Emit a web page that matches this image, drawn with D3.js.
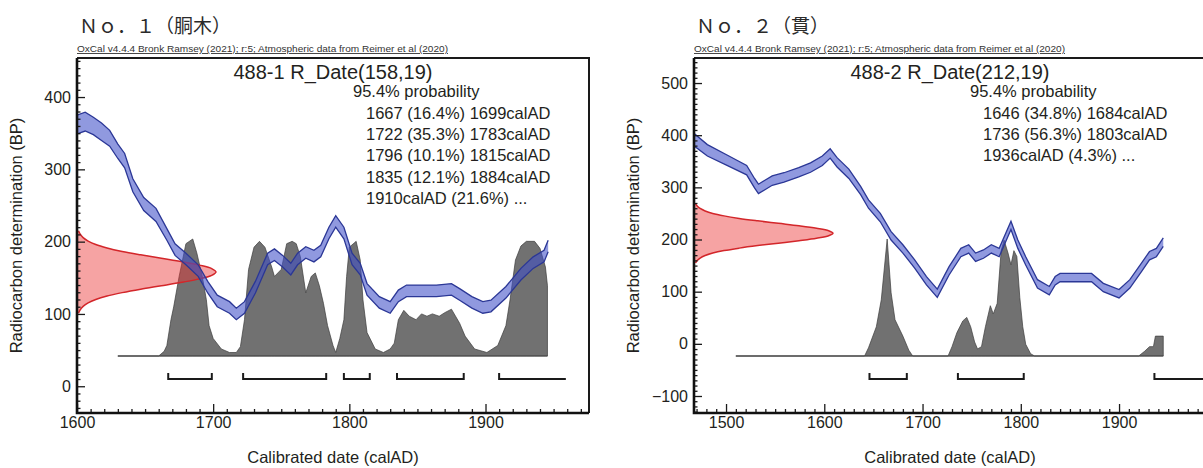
<!DOCTYPE html>
<html><head><meta charset="utf-8">
<script src="https://cdn.jsdelivr.net/npm/d3@7"></script>
<style>
body{margin:0;background:#fff;}
svg text{font-family:"Liberation Sans",Arial,Helvetica,sans-serif;fill:#231f20;}
</style></head><body>
<svg id="c" width="1203" height="468"></svg>
<script>
// ---------------- DATA ----------------
const panelTitles = ["Ｎｏ．１（胴木）", "Ｎｏ．２（貫）"];
const oxcalNote = "OxCal v4.4.4 Bronk Ramsey (2021); r:5; Atmospheric data from Reimer et al (2020)";
const sampleNames = ["488-1 R_Date(158,19)", "488-2 R_Date(212,19)"];
const probHeader = "95.4% probability";
const probLines1 = ["1667 (16.4%) 1699calAD", "1722 (35.3%) 1783calAD", "1796 (10.1%) 1815calAD", "1835 (12.1%) 1884calAD", "1910calAD (21.6%) ..."];
const probLines2 = ["1646 (34.8%) 1684calAD", "1736 (56.3%) 1803calAD", "1936calAD (4.3%) ..."];
const yAxisTitle = "Radiocarbon determination (BP)";
const xAxisTitle = "Calibrated date (calAD)";

const xDomain1 = [1600, 1976], yDomain1 = [-37, 454];
const xDomain2 = [1467.4, 1988.5], yDomain2 = [-132.6, 548];
const xTicks1 = [1600, 1700, 1800, 1900], yTicks1 = [0, 100, 200, 300, 400];
const xTicks2 = [1500, 1600, 1700, 1800, 1900], yTicks2 = [-100, 0, 100, 200, 300, 400, 500];

// calibration curve (centre, 1 sigma)
const curveYear1 = [1600,1606,1612,1618,1624,1630,1635,1641,1649,1658,1666,1672,1680,1689,1696,1703,1712,1717,1723,1731,1740,1745,1751,1757,1762,1768,1774,1779,1785,1790,1796,1802,1808,1813,1822,1830,1836,1842,1853,1864,1875,1881,1890,1898,1904,1915,1926,1935,1943,1946];
const curveBP1   = [362,366,360,352,343,325,312,278,252,237,210,189,176,160,137,118,109,100,109,137,176,182,173,162,176,185,180,187,212,228,212,176,162,134,116,109,125,132,132,132,134,127,116,109,111,130,155,171,180,194];
const curveErr1  = [13,13,12,12,11,10,10,9,9,9,8,8,8,8,8,8,8,8,8,8,8,8,8,8,8,8,8,8,8,8,8,8,8,8,8,8,8,8,8,8,8,8,8,8,8,8,8,8,8,8];
const curveYear2 = [1467,1481,1501,1521,1529,1533,1540,1547,1559,1574,1586,1598,1606,1613,1625,1637,1645,1657,1668,1680,1692,1704,1715,1727,1739,1747,1754,1762,1770,1778,1790,1797,1805,1817,1829,1835,1840,1856,1872,1884,1900,1911,1923,1931,1938,1945];
const curveBP2   = [392,371,352,333,308,297,305,313,319,329,338,351,365,348,326,294,268,242,207,182,153,121,97,140,175,182,166,172,182,175,227,191,159,115,102,121,127,127,127,108,96,115,147,169,175,195];
const curveErr2  = [12,11,10,9,9,9,9,9,9,9,9,9,9,9,9,8,8,8,8,8,8,8,8,8,8,8,8,8,8,8,8,8,8,8,8,8,8,8,8,8,8,8,8,8,8,8];

// calibrated probability (relative)
const densYear1 = [1630,1660,1664,1666,1669,1671,1675,1680,1685,1688,1692,1695,1697,1700,1706,1712,1717,1720,1723,1726,1730,1734,1738,1743,1745,1750,1754,1758,1761,1764,1768,1772,1775,1778,1781,1784,1788,1790,1793,1796,1798,1800,1805,1808,1810,1813,1819,1825,1830,1833,1836,1840,1844,1849,1853,1857,1861,1866,1870,1875,1881,1885,1892,1901,1909,1915,1918,1922,1926,1930,1936,1940,1944,1945.5,1945.5];
const densRel1  = [0,0,0.04,0.09,0.31,0.42,0.68,0.96,1.0,0.88,0.68,0.48,0.26,0.15,0.06,0.03,0.03,0.08,0.31,0.74,0.93,0.98,0.93,0.76,0.68,0.74,0.96,0.98,0.96,0.85,0.54,0.68,0.71,0.6,0.45,0.26,0.09,0.03,0.15,0.31,0.68,0.93,0.98,0.82,0.48,0.2,0.06,0.03,0.06,0.11,0.31,0.39,0.34,0.31,0.36,0.34,0.36,0.34,0.37,0.4,0.28,0.17,0.06,0.03,0.09,0.26,0.48,0.82,0.94,0.98,0.98,0.92,0.76,0.6,0];
const densYear2 = [1510,1641,1645,1653,1658,1664,1668,1672,1680,1686,1690,1726,1730,1735,1741,1745,1749,1753,1756,1760,1764,1769,1772,1776,1780,1783,1787,1790,1793,1796,1799,1802,1805,1810,1814,1920,1926,1931,1935,1937,1945,1945];
const densRel2  = [0,0,0.07,0.25,0.48,1.0,0.54,0.31,0.17,0.05,0,0,0.08,0.2,0.3,0.33,0.25,0.12,0.06,0.08,0.25,0.43,0.36,0.45,0.9,0.99,0.88,0.78,0.9,0.85,0.5,0.25,0.1,0.02,0,0,0.04,0.08,0.08,0.17,0.17,0];

// radiocarbon likelihood (BP, relative)
const likeBP1 = [101,105.8,110.5,115.3,120,124.8,129.5,134.3,139,143.8,148.5,153.3,158,162.8,167.5,172.3,177,181.8,186.5,191.3,196,200.8,205.5,210.3,215];
const likeBP2 = [155,159.8,164.5,169.3,174,178.8,183.5,188.3,193,197.8,202.5,207.3,212,216.8,221.5,226.3,231,235.8,240.5,245.3,250,254.8,259.5,264.3,269];
const likeRel = [0.011,0.023,0.044,0.080,0.135,0.216,0.325,0.458,0.607,0.755,0.882,0.969,1,0.969,0.882,0.755,0.607,0.458,0.325,0.216,0.135,0.080,0.044,0.023,0.011];

// 95.4% ranges
const hpdFrom1 = [1667,1722,1796,1835,1910], hpdTo1 = [1699,1783,1815,1884,1959], hpdOpen1 = [false,false,false,false,true];
const hpdFrom2 = [1646,1736,1936], hpdTo2 = [1684,1803,1990], hpdOpen2 = [false,false,true];

// ---------------- LAYOUT ----------------
const W = 512, H = 355, TOP = 58;
const BASE_OFF = 298, BRACKET_OFF = 321, DENS_H = 117, LIKE_W = 139;

const panels = [
  {left:77, xDom:xDomain1, yDom:yDomain1, xT:xTicks1, yT:yTicks1, title:panelTitles[0], name:sampleNames[0], lines:probLines1,
   cy:curveYear1, cb:curveBP1, ce:curveErr1, dy:densYear1, dr:densRel1, lb:likeBP1, hf:hpdFrom1, ht:hpdTo1, ho:hpdOpen1},
  {left:694, xDom:xDomain2, yDom:yDomain2, xT:xTicks2, yT:yTicks2, title:panelTitles[1], name:sampleNames[1], lines:probLines2,
   cy:curveYear2, cb:curveBP2, ce:curveErr2, dy:densYear2, dr:densRel2, lb:likeBP2, hf:hpdFrom2, ht:hpdTo2, ho:hpdOpen2}
];

const svg = d3.select("#c");

panels.forEach((p, pi) => {
  const x = d3.scaleLinear().domain(p.xDom).range([0, W]);
  const y = d3.scaleLinear().domain(p.yDom).range([H, 0]);
  const like = d3.scaleLinear().domain([0, 1]).range([0, LIKE_W]);
  const dens = d3.scaleLinear().domain([0, 1]).range([BASE_OFF, BASE_OFF - DENS_H]);

  // headings
  svg.append("text").attr("x", p.left + 2).attr("y", 33)
    .style("font-family", "'Noto Sans CJK JP','Noto Sans CJK SC',sans-serif")
    .style("font-size", "19px").style("fill", "#2a2a2a").text(p.title);
  svg.append("text").attr("x", p.left).attr("y", 52)
    .style("font-size", "9px").attr("textLength", 371).attr("lengthAdjust", "spacingAndGlyphs")
    .style("text-decoration", "underline").style("fill", "#333").text(oxcalNote);

  const g = svg.append("g").attr("transform", `translate(${p.left},${TOP})`);

  const clipId = "clip" + pi;
  g.append("clipPath").attr("id", clipId).append("rect").attr("width", W).attr("height", H);
  const pg = g.append("g").attr("clip-path", `url(#${clipId})`);

  // calibrated distribution
  const di = d3.range(p.dy.length);
  pg.append("path").datum(di)
    .attr("d", d3.area().x(i => x(p.dy[i])).y0(BASE_OFF).y1(i => dens(p.dr[i])))
    .attr("fill", "#717171").attr("stroke", "#3c3c3c").attr("stroke-width", 0.7);
  pg.append("line").attr("x1", x(p.dy[0])).attr("x2", x(p.dy[p.dy.length - 1]))
    .attr("y1", BASE_OFF).attr("y2", BASE_OFF).attr("stroke", "#4a4a4a").attr("stroke-width", 1.2);

  // likelihood (red)
  const li = d3.range(p.lb.length);
  pg.append("path").datum(li)
    .attr("d", d3.area().curve(d3.curveCatmullRom).y(i => y(p.lb[i])).x0(0).x1(i => like(likeRel[i])))
    .attr("fill", "rgba(236,52,52,0.45)");
  pg.append("path").datum(li)
    .attr("d", d3.line().curve(d3.curveCatmullRom).y(i => y(p.lb[i])).x(i => like(likeRel[i])))
    .attr("fill", "none").attr("stroke", "#d3262a").attr("stroke-width", 1.5);

  // calibration curve band
  const ci = d3.range(p.cy.length);
  pg.append("path").datum(ci)
    .attr("d", d3.area().x(i => x(p.cy[i])).y0(i => y(p.cb[i] - p.ce[i])).y1(i => y(p.cb[i] + p.ce[i])))
    .attr("fill", "rgba(64,80,200,0.58)");
  [-1, 1].forEach(s => {
    pg.append("path").datum(ci)
      .attr("d", d3.line().x(i => x(p.cy[i])).y(i => y(p.cb[i] + s * p.ce[i])))
      .attr("fill", "none").attr("stroke", "#2b3796").attr("stroke-width", 1.3);
  });

  // 95.4% range brackets
  p.hf.forEach((f, k) => {
    const x0 = x(f), x1 = x(p.ht[k]);
    let d = `M${x0},${BRACKET_OFF - 6}V${BRACKET_OFF}H${x1}`;
    if (!p.ho[k]) d += `V${BRACKET_OFF - 6}`;
    pg.append("path").attr("d", d).attr("fill", "none").attr("stroke", "#1a1a1a").attr("stroke-width", 2);
  });

  // axes ticks
  const xMinor = d3.range(Math.ceil(p.xDom[0] / 10) * 10, p.xDom[1], 10).filter(v => v % 100 !== 0);
  const yMinor = d3.range(Math.ceil(p.yDom[0] / 10) * 10, p.yDom[1], 10).filter(v => v % 100 !== 0);
  const ax1 = g.append("g").attr("transform", `translate(0,${H})`)
    .call(d3.axisBottom(x).tickValues(xMinor).tickSize(-4).tickFormat(""));
  const ax2 = g.append("g").attr("transform", `translate(0,${H})`)
    .call(d3.axisBottom(x).tickValues(p.xT).tickSize(-9).tickPadding(4).tickFormat(d3.format("d")));
  const ay1 = g.append("g").call(d3.axisLeft(y).tickValues(yMinor).tickSize(-3.5).tickFormat(""));
  const ay2 = g.append("g").call(d3.axisLeft(y).tickValues(p.yT).tickSize(-8).tickPadding(6).tickFormat(d3.format("d")));
  [ax1, ax2, ay1, ay2].forEach(a => {
    a.select(".domain").remove();
    a.selectAll(".tick line").attr("stroke", "#1a1a1a").attr("stroke-width", 1.3);
    a.selectAll(".tick text").style("font-size", "16px").style("font-family", "'Liberation Sans',Arial,sans-serif").attr("fill", "#231f20");
  });

  // frame
  g.append("path").attr("d", `M0,0H${W}V${H}`).attr("fill", "none").attr("stroke", "#1a1a1a").attr("stroke-width", 2);
  g.append("path").attr("d", `M0,0V${H}H${W}`).attr("fill", "none").attr("stroke", "#111").attr("stroke-width", 2.6);

  // in-plot text
  g.append("text").attr("x", W / 2).attr("y", 21).attr("text-anchor", "middle").style("font-size", "20px").text(p.name);
  g.append("text").attr("x", 276).attr("y", 39).style("font-size", "16.5px").text(probHeader);
  p.lines.forEach((t, k) => {
    g.append("text").attr("x", 289).attr("y", 61 + k * 21.2).style("font-size", "16.5px").text(t);
  });

  // axis titles
  svg.append("text").attr("transform", `translate(${p.left - 55},${TOP + H / 2}) rotate(-90)`)
    .attr("text-anchor", "middle").style("font-size", "16.5px").text(yAxisTitle);
  svg.append("text").attr("x", p.left + W / 2).attr("y", 463)
    .attr("text-anchor", "middle").style("font-size", "16.5px").text(xAxisTitle);
});
</script>
</body></html>
